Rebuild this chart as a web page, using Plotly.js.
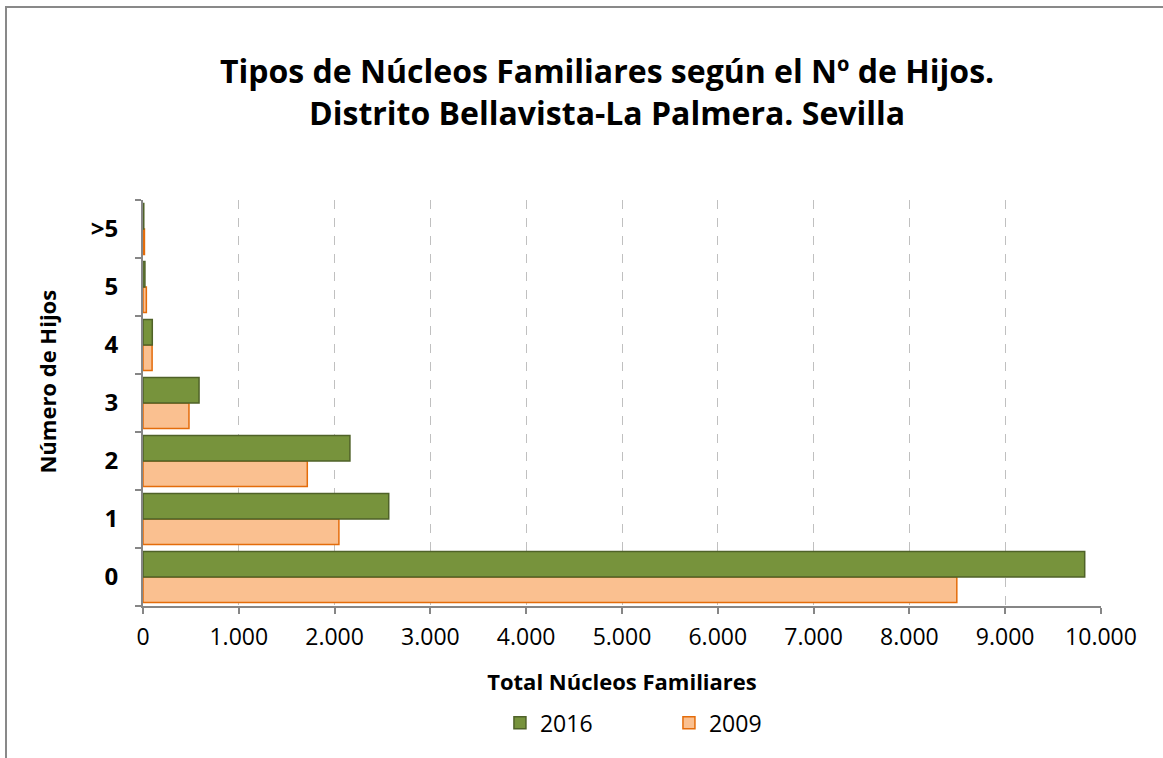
<!DOCTYPE html>
<html>
<head>
<meta charset="utf-8">
<script src="https://cdn.plot.ly/plotly-3.0.1.min.js"></script>
<style>
  html, body { margin: 0; padding: 0; background: #fff; }
  #chart { width: 1163px; height: 758px; }
  #frame { position: absolute; left: 5px; top: 6px; right: 0; bottom: 0;
           border-left: 2px solid #898989; border-top: 2px solid #898989; pointer-events: none; }
</style>
</head>
<body>
<div id="chart"></div>
<div id="frame"></div>
<script>
// Número de hijos (bottom to top)
const categories = ['0', '1', '2', '3', '4', '5', '>5'];
const values2016 = [9830, 2565, 2160, 585, 97, 20, 8];
const values2009 = [8495, 2045, 1715, 480, 95, 35, 15];

const FONT = '"Open Sans", "Noto Sans", sans-serif';

// 2009 first so it sits below 2016 in each group
const traces = [
  {
    type: 'bar', orientation: 'h', name: '2009',
    y: categories, x: values2009,
    marker: { color: '#fac090', line: { color: '#e46c0a', width: 1.5 } },
    hovertemplate: '%{y}: %{x:,d}<extra>2009</extra>',
  },
  {
    type: 'bar', orientation: 'h', name: '2016',
    y: categories, x: values2016,
    marker: { color: '#77933c', line: { color: '#4f6228', width: 1.5 } },
    hovertemplate: '%{y}: %{x:,d}<extra>2016</extra>',
  },
];

const layout = {
  width: 1163, height: 758,
  paper_bgcolor: '#fff', plot_bgcolor: '#fff',
  font: { family: FONT, color: '#000', size: 23 },
  separators: ',.',
  title: {
    text: '<b>Tipos de Núcleos Familiares según el Nº de Hijos.<br>Distrito Bellavista-La Palmera. Sevilla</b>',
    font: { family: FONT, size: 32, color: '#000' },
    x: 0.522, xanchor: 'center', y: 0.89, yanchor: 'middle',
  },
  margin: { t: 200, r: 62, b: 152, l: 143 },
  barmode: 'group', bargap: 0.12, bargroupgap: 0,
  xaxis: {
    range: [0, 10000], dtick: 1000, tickformat: ',d',
    showgrid: true, gridcolor: '#c0c0c0', griddash: 'dash', gridwidth: 1,
    showline: true, linecolor: '#868686', linewidth: 2,
    ticks: 'outside', ticklen: 6, tickcolor: '#868686', tickwidth: 2,
    zeroline: false,
    tickfont: { size: 23 },
    ticklabelstandoff: 3,
    title: { text: '<b>Total Núcleos Familiares</b>', font: { size: 22 }, standoff: 24 },
  },
  yaxis: {
    type: 'category', categoryorder: 'array', categoryarray: categories,
    tickson: 'boundaries', ticks: 'outside', ticklen: 6, tickcolor: '#868686', tickwidth: 2,
    showline: true, linecolor: '#868686', linewidth: 2, showgrid: false,
    tickfont: { size: 24, family: FONT, weight: 'bold' },
    ticklabelstandoff: 18,
  },
  // y title sits a bit above the plot centre in the original
  annotations: [{
    text: '<b>Número de Hijos</b>', textangle: -90, showarrow: false,
    xref: 'paper', yref: 'paper', x: -0.0997, y: 0.554,
    xanchor: 'center', yanchor: 'middle',
    font: { size: 22, family: FONT, color: '#000' },
  }],
  showlegend: true,
  legend: {
    orientation: 'h', traceorder: 'reversed',
    x: 0.549, xanchor: 'center', y: -0.235, yanchor: 'top',
    font: { size: 23 }, entrywidth: 124, entrywidthmode: 'pixels',
  },
};

Plotly.newPlot('chart', traces, layout, { displayModeBar: false, responsive: false });
</script>
</body>
</html>
